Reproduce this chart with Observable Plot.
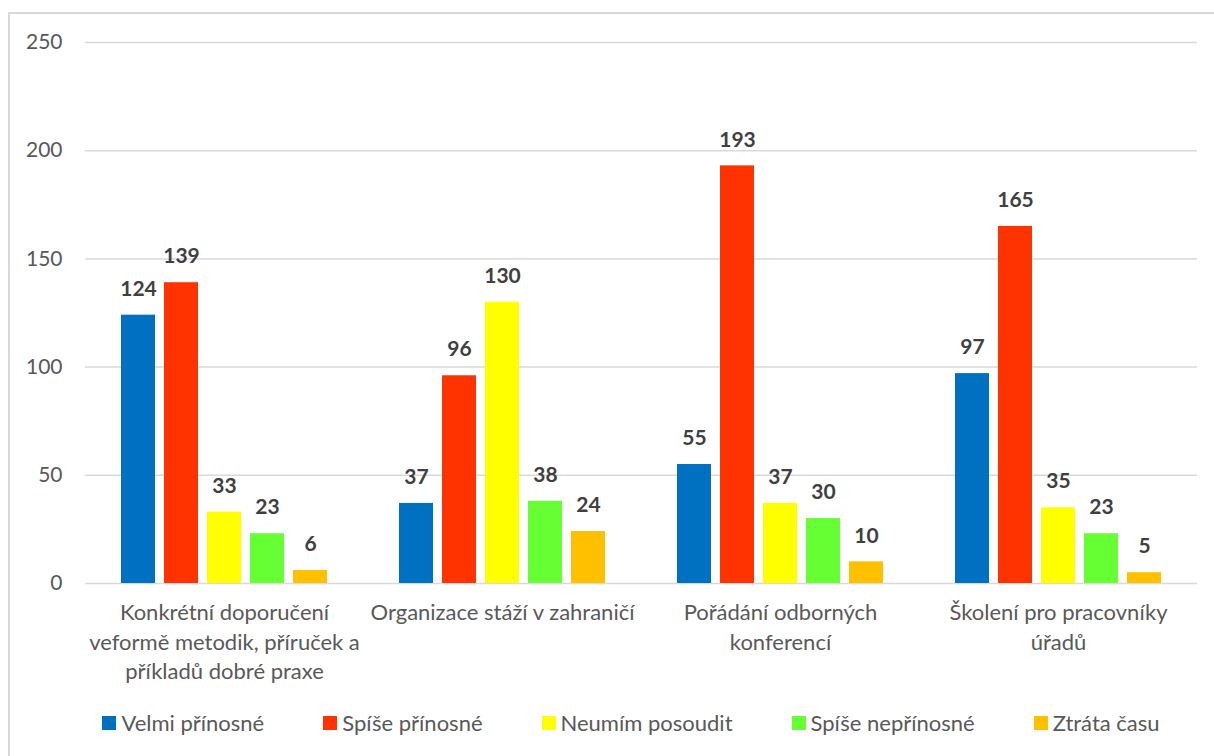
<!DOCTYPE html>
<html>
<head>
<meta charset="utf-8">
<script src="https://cdn.jsdelivr.net/npm/d3@7"></script>
<script src="https://cdn.jsdelivr.net/npm/@observablehq/plot@0.6"></script>
<style>
  html, body { margin: 0; padding: 0; background: #fff; width: 1214px; height: 756px; overflow: hidden; }
  body { position: relative; font-family: Lato, "Open Sans", sans-serif; }
  #frame { position: absolute; left: 8px; top: 12px; width: 1230px; height: 800px; border: 2px solid #d9d9d9; box-sizing: border-box; }
  #chart { position: absolute; left: 0; top: 0; }
  #legend { position: absolute; left: 0; width: 1262px; top: 709px; display: flex; justify-content: center; gap: 59px; font-size: 22px; color: #595959; }
  #legend .item { display: flex; align-items: center; white-space: nowrap; }
  #legend .sw { width: 14px; height: 14px; margin-right: 5px; }
</style>
</head>
<body>
<div id="frame"></div>
<div id="chart"></div>
<div id="legend"></div>
<script>
const categories = [
  "Konkrétní doporučení veformě metodik, příruček a příkladů dobré praxe",
  "Organizace stáží v zahraničí",
  "Pořádání odborných konferencí",
  "Školení pro pracovníky úřadů"
];
const categoryLabels = [
  "Konkrétní doporučení\nveformě metodik, příruček a\npříkladů dobré praxe",
  "Organizace stáží v zahraničí",
  "Pořádání odborných\nkonferencí",
  "Školení pro pracovníky\núřadů"
];
const series = ["Velmi přínosné", "Spíše přínosné", "Neumím posoudit", "Spíše nepřínosné", "Ztráta času"];
const colors = ["#0070C0", "#FF3300", "#FFFF00", "#66FF33", "#FFC000"];
const velmiPrinosne   = [124, 37, 55, 97];
const spisePrinosne   = [139, 96, 193, 165];
const neumimPosoudit  = [33, 130, 37, 35];
const spiseNeprinosne = [23, 38, 30, 23];
const ztrataCasu      = [6, 24, 10, 5];
const yTicks = [0, 50, 100, 150, 200, 250];

const valuesBySeries = [velmiPrinosne, spisePrinosne, neumimPosoudit, spiseNeprinosne, ztrataCasu];
const table = [];
categories.forEach((c, ci) => {
  series.forEach((s, si) => table.push({category: c, series: s, value: valuesBySeries[si][ci]}));
});
const labelTable = categories.map((c, i) => ({category: c, label: categoryLabels[i]}));

const font = "Lato, 'Open Sans', sans-serif";
const chart = Plot.plot({
  width: 1214,
  height: 700,
  marginTop: 42,
  marginBottom: 117,
  marginLeft: 85,
  marginRight: 17,
  style: {fontFamily: font, background: "transparent"},
  fx: {domain: categories, padding: 0, axis: null, label: null},
  x: {domain: series, paddingInner: 0.2, paddingOuter: 0.83, axis: null},
  y: {domain: [0, 250], ticks: yTicks, axis: null},
  color: {domain: series, range: colors},
  marks: [
    Plot.gridY(yTicks, {stroke: "#d9d9d9", strokeOpacity: 1, strokeWidth: 1.5}),
    Plot.barY(table, {fx: "category", x: "series", y: "value", fill: "series"}),
    Plot.text(table, {fx: "category", x: "series", y: "value", text: d => String(d.value), dy: -26,
      fontSize: 21, fontWeight: "bold", fill: "#404040"}),
    Plot.axisY(yTicks, {tickSize: 0, tickPadding: 23, fontSize: 21, fill: "#595959", label: null}),
    Plot.text(labelTable, {fx: "category", frameAnchor: "bottom", text: "label", lineAnchor: "top",
      dy: 16, lineHeight: 1.34, fontSize: 22, fill: "#595959"})
  ]
});
document.getElementById("chart").appendChild(chart);

const legend = document.getElementById("legend");
series.forEach((s, i) => {
  const item = document.createElement("div");
  item.className = "item";
  const sw = document.createElement("span");
  sw.className = "sw";
  sw.style.background = colors[i];
  const t = document.createElement("span");
  t.textContent = s;
  item.appendChild(sw);
  item.appendChild(t);
  legend.appendChild(item);
});
</script>
</body>
</html>
